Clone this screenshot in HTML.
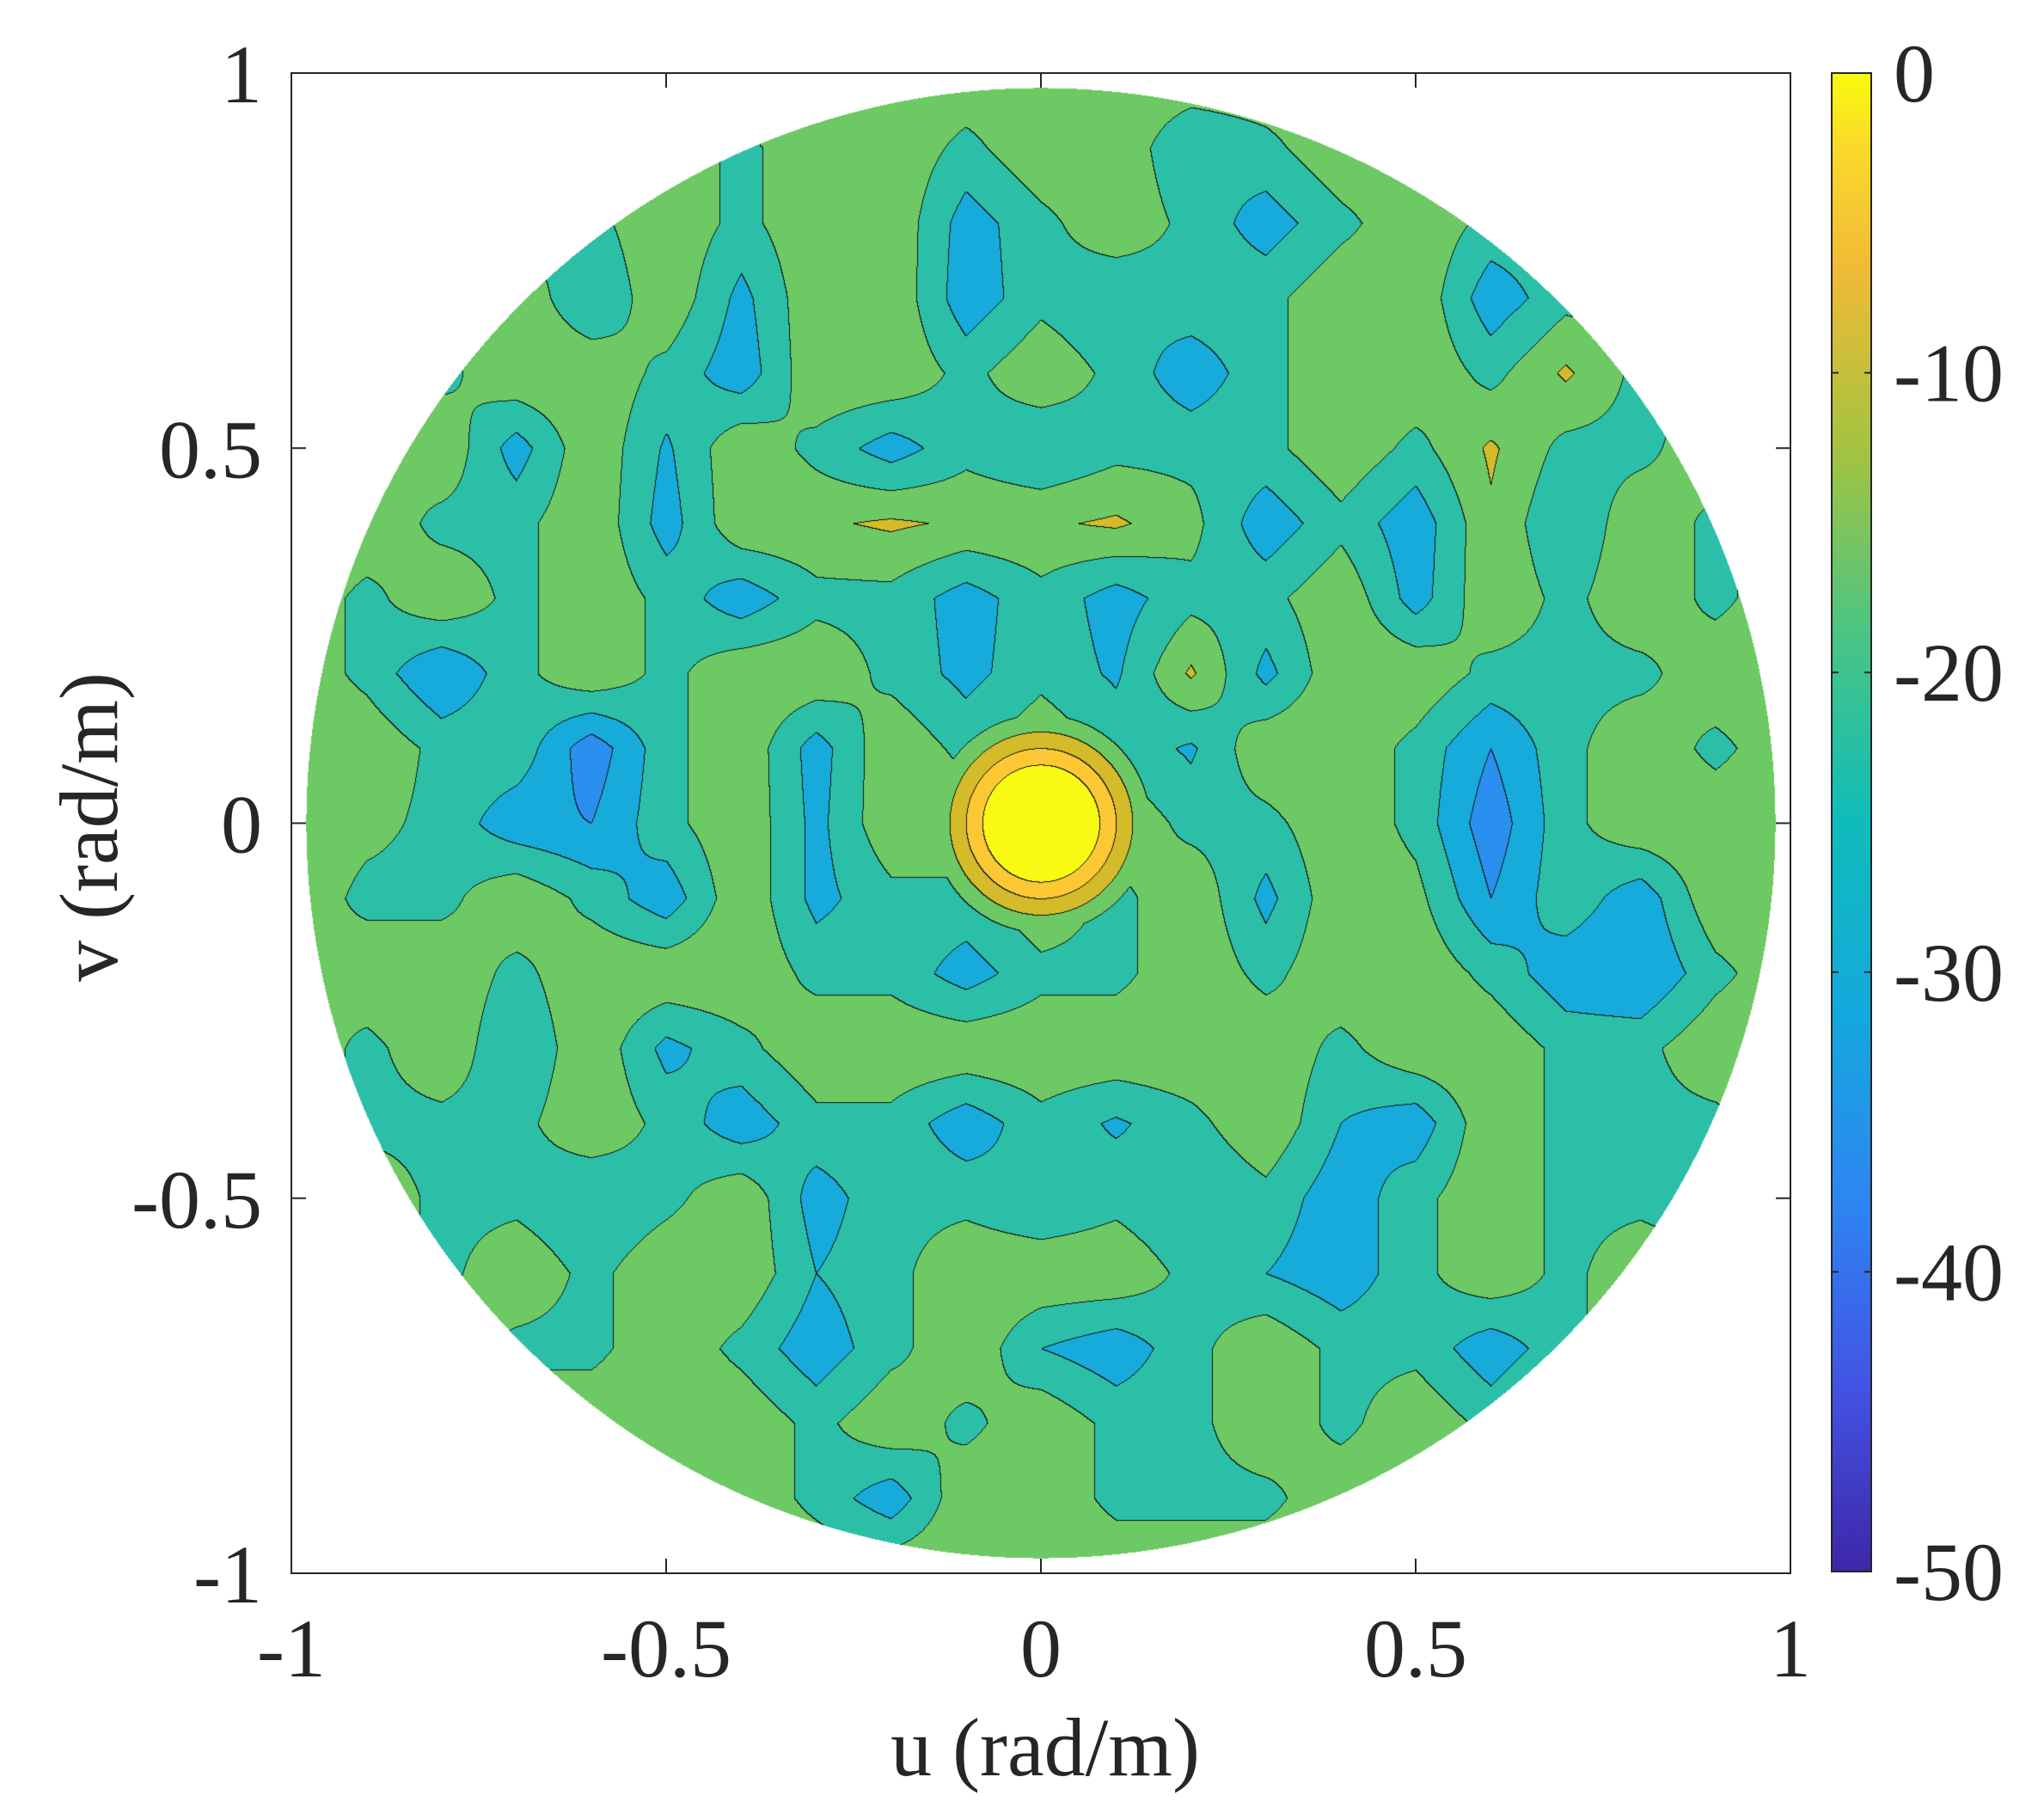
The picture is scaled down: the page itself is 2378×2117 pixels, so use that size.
<!DOCTYPE html>
<html><head><meta charset="utf-8"><style>
html,body{margin:0;padding:0;background:#fff;}
#wrap{position:relative;width:2378px;height:2117px;overflow:hidden;font-family:"Liberation Serif",serif;color:#262626;}
.t{position:absolute;font-size:96px;line-height:1;white-space:nowrap;}
</style></head><body>
<div id="wrap">
<canvas id="cv" width="1744" height="1745" style="position:absolute;left:339px;top:85px;"></canvas>
<svg id="ax" width="2378" height="2117" style="position:absolute;left:0;top:0;"></svg>
<div class="t" style="left:1216px;top:1985px;transform:translateX(-50%);">u (rad/m)</div>
<div class="t" style="left:104px;top:962px;transform:translate(-50%,-50%) rotate(-90deg);">v (rad/m)</div>
</div>
<script>
const G=-19;
const gridRows=[
[G,G,G,G,G,G,G,G,G,G,G,G,G,G,G,G,G,G,G,G,G],
[-19,-19,-19,-19,-19,-19,-26,-19,-19,-26,-19,-19,-30,-26,-19,-19,-19,-19,-19,-19,-19],
[-19,-19,-19,-26,-26,-19,-26,-19,-19,-33,-26,-19,-26,-33,-26,-19,-26,-26,-19,-19,-19],
[-19,-19,-26,-19,-30,-19,-32,-19,-19,-34,-26,-30,-26,-26,-19,-19,-34,-26,-26,-19,-19],
[-19,-26,-26,-19,-19,-26,-34,-19,-19,-26,-19,-26,-34,-26,-19,-19,-26,-17,-26,-26,-19],
[-19,-26,-19,-33,-19,-31,-19,-26,-33,-26,-30,-26,-26,-26,-19,-26,-17,-26,-26,-19,-19],
[-19,-19,-26,-26,-19,-33,-19,-19,-17,-19,-19,-17,-22,-34,-26,-34,-19,-30,-19,-26,-19],
[-19,-26,-19,-26,-19,-26,-34,-26,-26,-33,-26,-33,-26,-26,-19,-33,-19,-26,-19,-26,-19],
[-19,-26,-36,-26,-19,-26,-19,-19,-26,-32,-26,-31,-17,-32,-19,-19,-26,-26,-26,-19,-19],
[-19,-19,-26,-26,-40,-26,-19,-33,-19,-26,-19,-26,-31,-19,-19,-26,-36,-26,-19,-26,-19],
[-19,-22,-26,-34,-36,-26,-19,-32,-19,-19,-19,-19,-26,-26,-19,-26,-40,-26,-19,-19,-19],
[-19,-26,-26,-19,-26,-34,-19,-32,-26,-26,-19,-26,-19,-32,-19,-22,-36,-26,-34,-19,-19],
[-26,-19,-19,-26,-19,-19,-19,-26,-26,-33,-26,-26,-19,-26,-19,-19,-26,-34,-36,-26,-19],
[-19,-26,-19,-30,-19,-32,-26,-19,-19,-19,-19,-19,-19,-19,-26,-19,-19,-26,-26,-19,-19],
[-19,-26,-26,-26,-19,-26,-34,-26,-26,-34,-26,-31,-26,-19,-30,-34,-19,-26,-26,-26,-19],
[-19,-19,-26,-26,-30,-26,-19,-33,-26,-26,-30,-26,-30,-26,-34,-26,-19,-26,-26,-31,-19],
[-19,-19,-26,-19,-26,-19,-19,-30,-26,-19,-19,-19,-26,-30,-34,-26,-19,-26,-19,-19,-19],
[-19,-19,-19,-26,-26,-19,-26,-34,-26,-19,-30,-34,-26,-19,-26,-26,-34,-26,-19,-19,-19],
[-19,-19,-19,-19,-19,-19,-19,-26,-19,-26,-19,-26,-26,-19,-26,-19,-26,-19,-19,-19,-19],
[-19,-19,-19,-19,-19,-19,-19,-26,-34,-19,-19,-26,-26,-26,-19,-19,-19,-19,-19,-19,-19],
[G,G,G,G,G,G,G,G,G,G,G,G,G,G,G,G,G,G,G,G,G]
];
const peakRadii=[0,0.04,0.078,0.1,0.122,0.145,0.17,0.25];
const peakValues=[0,-2,-6,-12,-18,-24,-40,-60];
const levels=[-6,-12,-18,-24,-30,-36,-42,-48];
const bandColors=["#f8fa14","#fcc935","#d4bb2a","#6dc963","#2bbfa7","#16abdb","#2b8ff0","#4052d8","#3b2d9c"];
const xTicks=[-1,-0.5,0,0.5,1];
const xTickLabels=["-1","-0.5","0","0.5","1"];
const yTicks=[1,0.5,0,-0.5,-1];
const yTickLabels=["1","0.5","0","-0.5","-1"];
const cbTicks=[0,-10,-20,-30,-40,-50];
const cbTickLabels=["0","-10","-20","-30","-40","-50"];

const PL=339,PT=85,PW=1744,PH=1745,R=0.98;
const xs=u=>PL+(u+1)/2*PW, ys=v=>PT+(1-v)/2*PH;
function hexRgb(h){return [parseInt(h.substr(1,2),16),parseInt(h.substr(3,2),16),parseInt(h.substr(5,2),16)];}
const bandRgb=bandColors.map(hexRgb);
function peak(r){if(r>=peakRadii[peakRadii.length-1])return -99;
 for(let i=0;i<peakRadii.length-1;i++){if(r<=peakRadii[i+1]){const f=(r-peakRadii[i])/(peakRadii[i+1]-peakRadii[i]);return peakValues[i]+f*(peakValues[i+1]-peakValues[i]);}}return -99;}
function val(u,v){
 const n=gridRows.length-1;
 let gx=(u+1)/2*n, gy=(1-v)/2*n;
 let i=Math.min(n-1,Math.max(0,Math.floor(gx))), j=Math.min(n-1,Math.max(0,Math.floor(gy)));
 const fx=gx-i, fy=gy-j;
 const a=gridRows[j][i],b=gridRows[j][i+1],c=gridRows[j+1][i],d=gridRows[j+1][i+1];
 const g=a*(1-fx)*(1-fy)+b*fx*(1-fy)+c*(1-fx)*fy+d*fx*fy;
 return Math.max(g,peak(Math.hypot(u,v)));
}
function band(z){let k=0;while(k<levels.length&&z<levels[k])k++;return k;}
(function(){
 const cv=document.getElementById('cv'),ctx=cv.getContext('2d');
 const img=ctx.createImageData(PW,PH),D=img.data;
 const L=new Int8Array(PW*PH);
 for(let y=0;y<PH;y++){const v=1-2*(y+0.5)/PH;
  for(let x=0;x<PW;x++){const u=2*(x+0.5)/PW-1;
   if(u*u+v*v>R*R){L[y*PW+x]=-1;continue;}
   L[y*PW+x]=band(val(u,v));}}
 for(let y=0;y<PH;y++)for(let x=0;x<PW;x++){const p=y*PW+x,k=L[p];if(k<0)continue;
  let edge=(x>0&&L[p-1]>=0&&L[p-1]!==k)||(y>0&&L[p-PW]>=0&&L[p-PW]!==k);
  const c=edge?[20,20,20]:bandRgb[k];
  D[p*4]=c[0];D[p*4+1]=c[1];D[p*4+2]=c[2];D[p*4+3]=255;}
 ctx.putImageData(img,0,0);
})();
(function(){
 const NS="http://www.w3.org/2000/svg",svg=document.getElementById('ax');
 function mk(t,a){const e=document.createElementNS(NS,t);for(const k in a)e.setAttribute(k,a[k]);svg.appendChild(e);return e;}
 const defs=mk('defs',{});
 const gr=document.createElementNS(NS,'linearGradient');gr.setAttribute('id','parula');gr.setAttribute('x1','0');gr.setAttribute('y1','1');gr.setAttribute('x2','0');gr.setAttribute('y2','0');
 [[0,"#3e26a8"],[0.12,"#4352e3"],[0.25,"#2d86f2"],[0.375,"#14a9dd"],[0.5,"#0fbcba"],[0.625,"#49c584"],[0.75,"#a5c33f"],[0.87,"#f0ba37"],[0.95,"#fad92a"],[1,"#f9fb0e"]].forEach(s=>{const st=document.createElementNS(NS,'stop');st.setAttribute('offset',s[0]);st.setAttribute('stop-color',s[1]);gr.appendChild(st);});
 defs.appendChild(gr);
 const box=mk('rect',{x:PL,y:PT,width:PW,height:PH,fill:'none',stroke:'#262626','stroke-width':2});
 
 
 xTicks.forEach((t,i)=>{const x=xs(t);
  mk('line',{x1:x,y1:PT+PH,x2:x,y2:PT+PH-17,stroke:'#262626','stroke-width':2});
  mk('line',{x1:x,y1:PT,x2:x,y2:PT+17,stroke:'#262626','stroke-width':2});
  const tx=mk('text',{x:x,y:1950,'text-anchor':'middle','font-size':96,'font-family':'Liberation Serif, serif',fill:'#262626'});
  tx.textContent=xTickLabels[i];
  
  });
 yTicks.forEach((t,i)=>{const y=ys(t);
  mk('line',{x1:PL,y1:y,x2:PL+17,y2:y,stroke:'#262626','stroke-width':2});
  mk('line',{x1:PL+PW,y1:y,x2:PL+PW-17,y2:y,stroke:'#262626','stroke-width':2});
  const tx=mk('text',{x:305,y:y+34,'text-anchor':'end','font-size':96,'font-family':'Liberation Serif, serif',fill:'#262626'});
  tx.textContent=yTickLabels[i];
  
  });
 const CX=2131,CW=46,CT=85,CH=1743;
 const cb=mk('rect',{x:CX,y:CT,width:CW,height:CH,fill:'url(#parula)',stroke:'#262626','stroke-width':2});
 
 
 cbTicks.forEach((t,i)=>{const y=CT+(-t/50)*CH;
  mk('line',{x1:CX,y1:y,x2:CX+8,y2:y,stroke:'#262626','stroke-width':2});
  mk('line',{x1:CX+CW,y1:y,x2:CX+CW-8,y2:y,stroke:'#262626','stroke-width':2});
  const tx=mk('text',{x:2203,y:y+33,'font-size':96,'font-family':'Liberation Serif, serif',fill:'#262626'});
  tx.textContent=cbTickLabels[i];
  
  });
})();
</script>
</body></html>
